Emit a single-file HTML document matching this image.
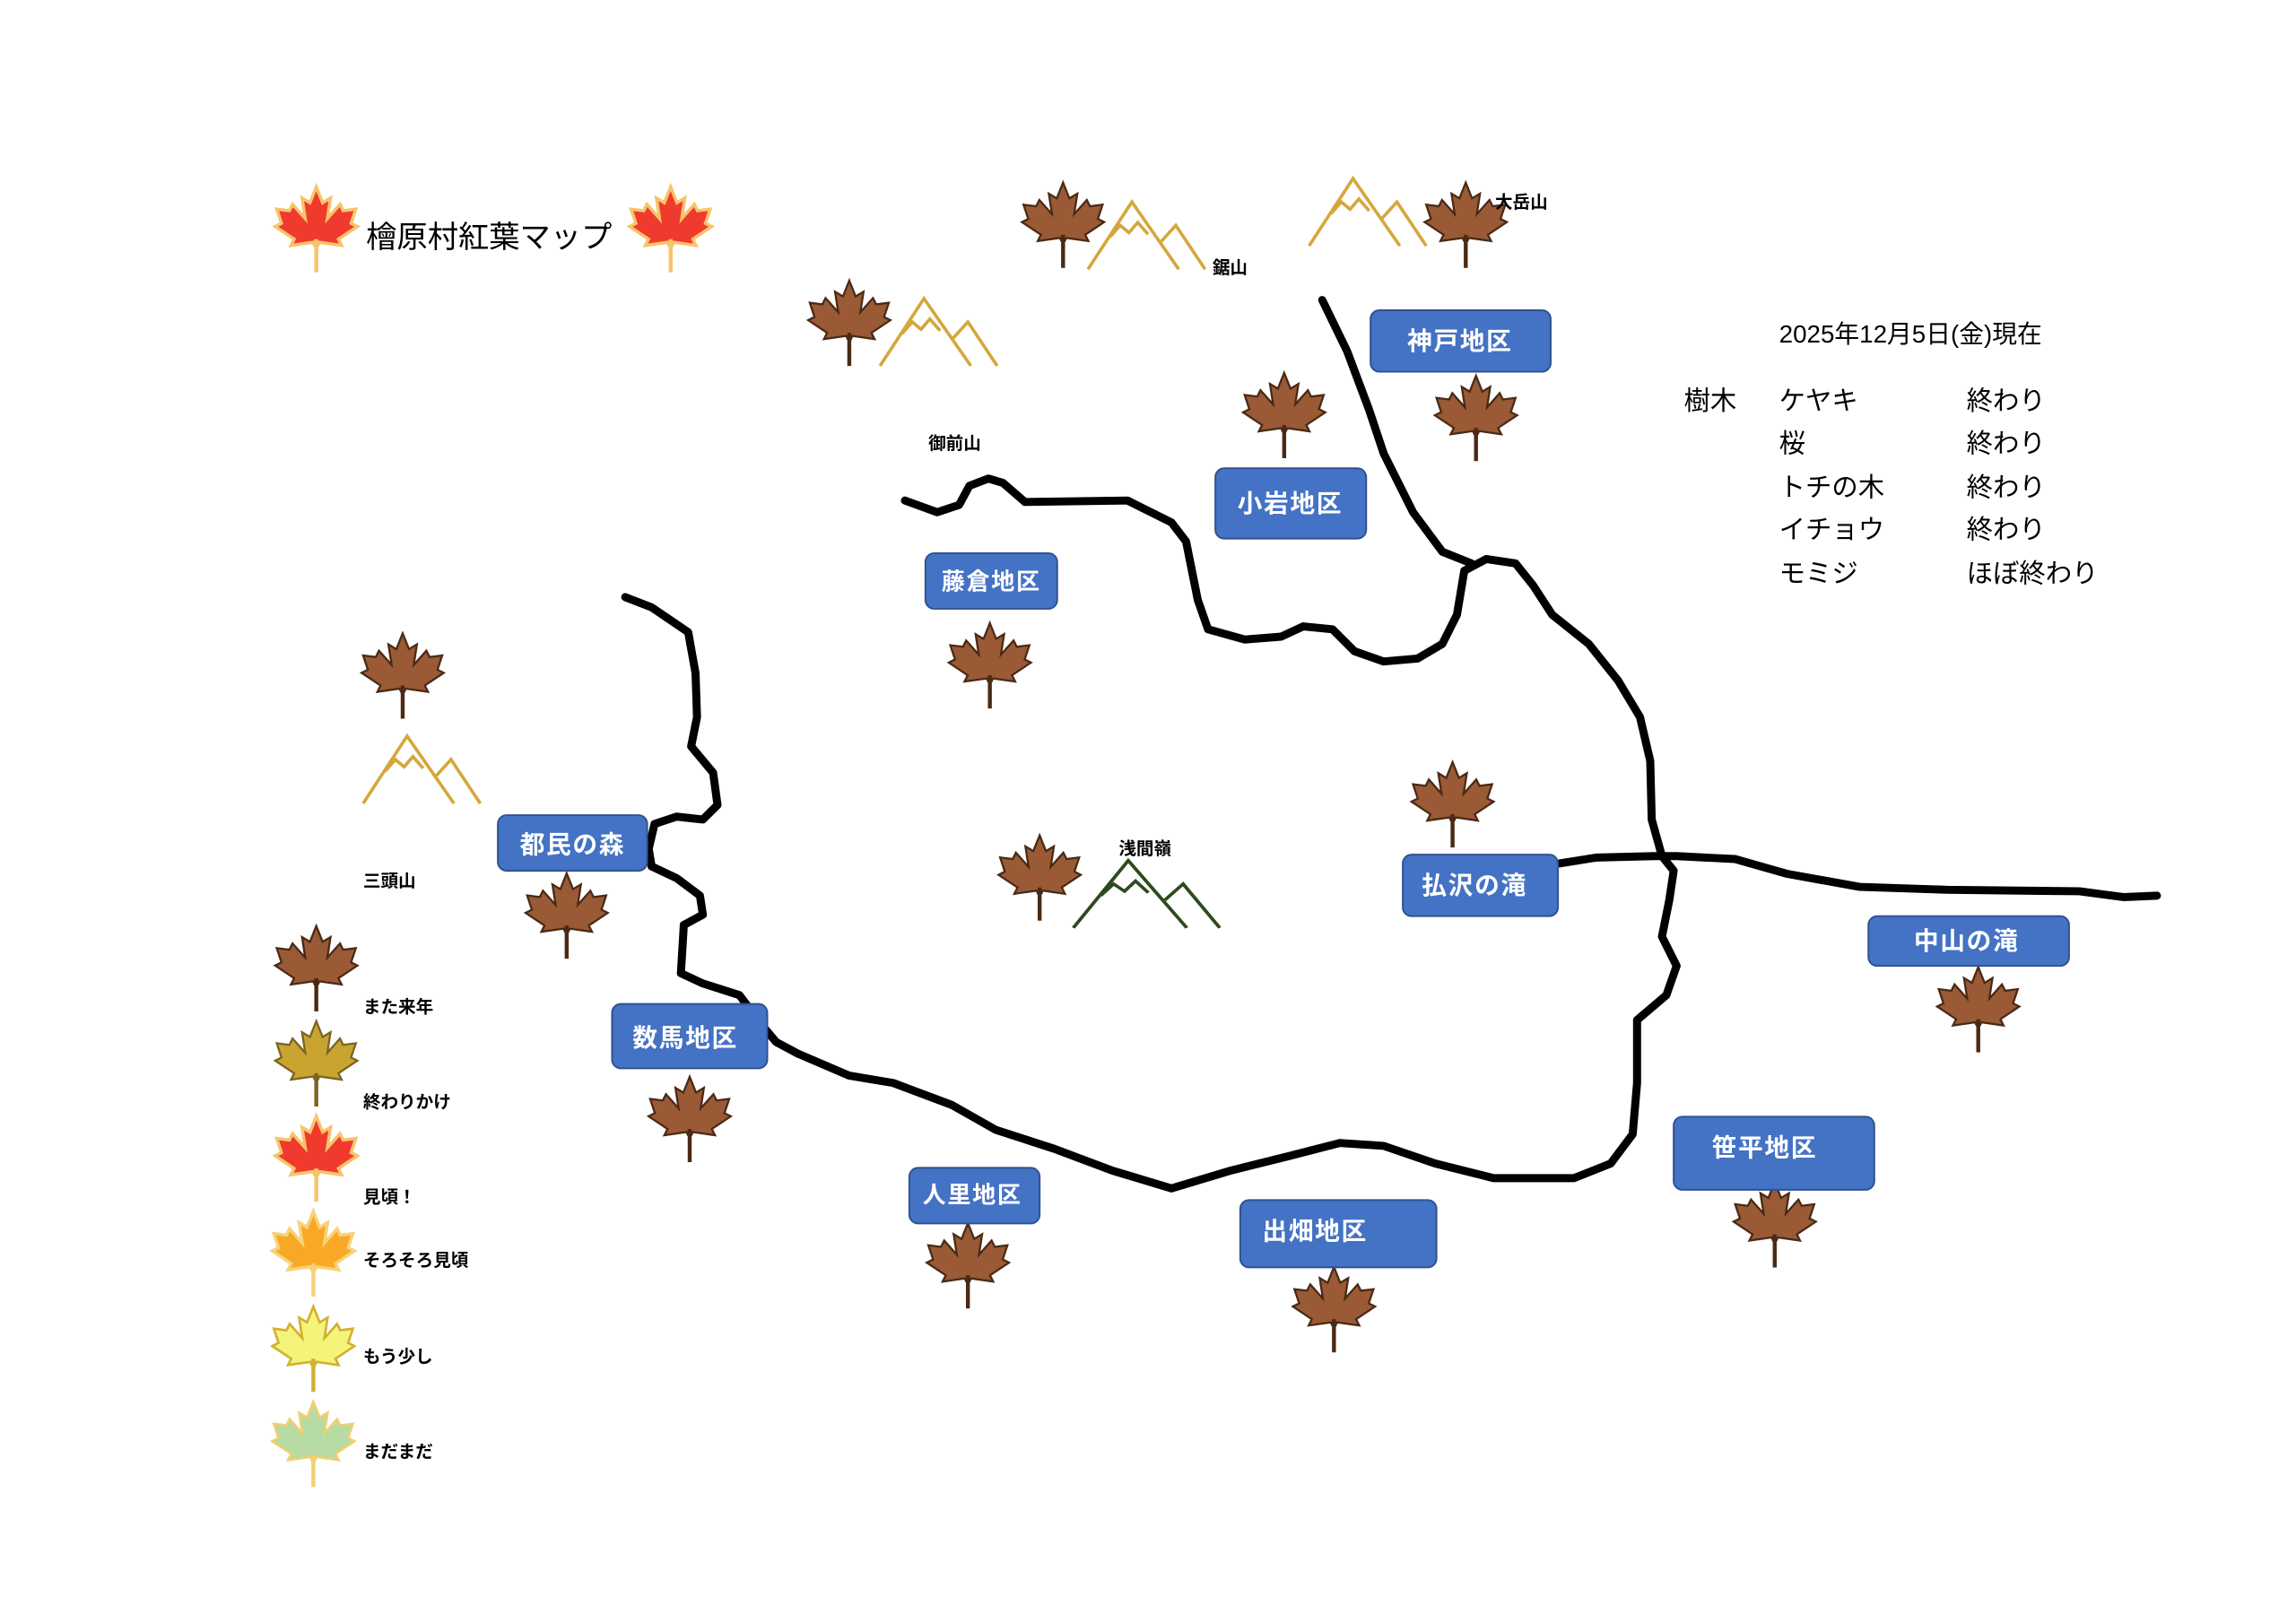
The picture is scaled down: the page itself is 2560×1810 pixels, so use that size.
<!DOCTYPE html>
<html><head><meta charset="utf-8"><style>
html,body{margin:0;padding:0;background:#fff;}
svg{display:block;}
text{font-family:"Liberation Sans","Noto Sans CJK JP",sans-serif;}
.b{fill:#4472c4;stroke:#2f528f;stroke-width:1.2;}
.bt{fill:#fff;font-weight:bold;font-size:17px;text-anchor:middle;letter-spacing:1px;}
.s{font-size:12px;font-weight:bold;fill:#000;}
.m{font-size:18px;fill:#000;}
.mt{fill:none;stroke:#d4a73a;stroke-width:2.2;}
</style></head><body>
<svg width="2560" height="1810" viewBox="0 0 1568 1109" preserveAspectRatio="none" xmlns="http://www.w3.org/2000/svg">
<defs>
<g id="leaf" transform="scale(1.08)">
<polygon points="0,-28 4,-18 9,-21 7,-8 15,-17 17,-13 25,-14 22,-5 26,-3 14,5 16,9 2,7 1,9 -1,9 -2,7 -16,9 -14,5 -26,-3 -22,-5 -25,-14 -17,-13 -15,-17 -7,-8 -9,-21 -4,-18"/>
<line x1="0" y1="5" x2="0" y2="26" stroke-width="2.5"/>
</g>
<g id="mtn">
<polyline points="-40,22 -10,-24 22,22"/>
<polyline points="10,3 20,-8 40,22"/>
<polyline points="-25,0 -18,-8 -12,-3 -6,-10 1,-2"/>
</g>
</defs>
<g fill="none" stroke="#000" stroke-width="5.5" stroke-linejoin="round" stroke-linecap="round">
<polyline points="427,408 445,415 470,432 475,460 476,490 472,510 487,528 490,550 480,560 462,558 447,563 443,580 445,592 462,600 478,612 480,625 467,632 465,665 480,672 505,680 520,700 530,712 545,720 580,735 610,740 650,755 680,772 720,785 760,800 800,812 840,800 880,790 915,781 945,783 980,795 1020,805 1075,805 1100,795 1115,775 1118,740 1118,697 1138,680 1145,660 1135,640 1140,615 1143,595 1135,585 1128,560 1127,520 1120,490 1105,465 1085,440 1060,420 1047,400 1035,385 1015,382 1000,390 995,420 985,440 968,450 945,452 925,445 910,430 890,428 875,435 850,437 825,430 818,410 810,370 800,357 770,342 700,343 685,330 675,327 662,332 655,345 640,350 618,342"/>
<polyline points="903,205 920,240 935,280 945,310 965,350 985,377 1005,385"/>
<polyline points="1065,590 1090,586 1130,585 1145,585 1185,587 1220,597 1270,606 1330,608 1420,609 1450,613 1473,612"/>
</g>
<g class="mt">
<use href="#mtn" x="783" y="162"/>
<use href="#mtn" x="641" y="228"/>
<use href="#mtn" x="934" y="146"/>
<use href="#mtn" x="288" y="527"/>
</g>
<g transform="translate(783,612) scale(1.25,1)"><use href="#mtn" fill="none" stroke="#2d4a1e" stroke-width="2"/></g>
<g fill="#9a5a36" stroke="#4a2a14" stroke-width="1.3">
<use href="#leaf" x="726" y="155"/><use href="#leaf" x="1001" y="155"/>
<use href="#leaf" x="580" y="222"/><use href="#leaf" x="877" y="285"/>
<use href="#leaf" x="1008" y="287"/><use href="#leaf" x="676" y="456"/>
<use href="#leaf" x="275" y="463"/><use href="#leaf" x="992" y="551"/>
<use href="#leaf" x="710" y="601"/><use href="#leaf" x="387" y="627"/>
<use href="#leaf" x="1351" y="691"/><use href="#leaf" x="471" y="766"/>
<use href="#leaf" x="1212" y="838"/><use href="#leaf" x="661" y="866"/>
<use href="#leaf" x="911" y="896"/><use href="#leaf" x="216" y="663"/>
</g>
<use href="#leaf" x="216" y="728" fill="#c9a431" stroke="#7a6420" stroke-width="1.3"/>
<g fill="#f03a2e" stroke="#f7c46a" stroke-width="2">
<use href="#leaf" x="216" y="158"/><use href="#leaf" x="458" y="158"/><use href="#leaf" x="216" y="793"/>
</g>
<use href="#leaf" x="214" y="858" fill="#f9a825" stroke="#f7d27a" stroke-width="2"/>
<use href="#leaf" x="214" y="923" fill="#f4f47a" stroke="#d4b030" stroke-width="1.5"/>
<use href="#leaf" x="214" y="988" fill="#b6dba4" stroke="#f0d070" stroke-width="1.5"/>
<rect class="b" x="936" y="212" width="123" height="42" rx="6"/><text class="bt" x="997" y="239">神戸地区</text>
<rect class="b" x="830" y="320" width="103" height="48" rx="6"/><text class="bt" x="881" y="350">小岩地区</text>
<rect class="b" x="632" y="378" width="90" height="38" rx="6"/><text class="bt" x="677" y="403" style="font-size:16px">藤倉地区</text>
<rect class="b" x="340" y="557" width="102" height="38" rx="6"/><text class="bt" x="391" y="583">都民の森</text>
<rect class="b" x="958" y="584" width="106" height="42" rx="6"/><text class="bt" x="1007" y="611">払沢の滝</text>
<rect class="b" x="1276" y="626" width="137" height="34" rx="6"/><text class="bt" x="1343" y="649">中山の滝</text>
<rect class="b" x="418" y="686" width="106" height="44" rx="6"/><text class="bt" x="468" y="715">数馬地区</text>
<rect class="b" x="1143" y="763" width="137" height="50" rx="6"/><text class="bt" x="1205" y="790">笹平地区</text>
<rect class="b" x="621" y="798" width="89" height="38" rx="6"/><text class="bt" x="664" y="822" style="font-size:16px">人里地区</text>
<rect class="b" x="847" y="820" width="134" height="46" rx="6"/><text class="bt" x="898" y="847">出畑地区</text>
<text x="250" y="169" style="font-size:21px">檜原村紅葉マップ</text>
<text class="s" x="1021" y="142">大岳山</text>
<text class="s" x="828" y="187">鋸山</text>
<text class="s" x="634" y="307">御前山</text>
<text class="s" x="764" y="584">浅間嶺</text>
<text class="s" x="248" y="606">三頭山</text>
<text class="s" x="248" y="692">また来年</text>
<text class="s" x="248" y="757">終わりかけ</text>
<text class="s" x="248" y="822">見頃！</text>
<text class="s" x="248" y="865">そろそろ見頃</text>
<text class="s" x="248" y="931">もう少し</text>
<text class="s" x="248" y="996">まだまだ</text>
<text x="1215" y="234" style="font-size:17px">2025年12月5日(金)現在</text>
<text class="m" x="1150" y="280">樹木</text>
<text class="m" x="1215" y="280">ケヤキ</text><text class="m" x="1343" y="280">終わり</text>
<text class="m" x="1215" y="309">桜</text><text class="m" x="1343" y="309">終わり</text>
<text class="m" x="1215" y="339">トチの木</text><text class="m" x="1343" y="339">終わり</text>
<text class="m" x="1215" y="368">イチョウ</text><text class="m" x="1343" y="368">終わり</text>
<text class="m" x="1215" y="398">モミジ</text><text class="m" x="1343" y="398">ほぼ終わり</text>
</svg>
</body></html>
